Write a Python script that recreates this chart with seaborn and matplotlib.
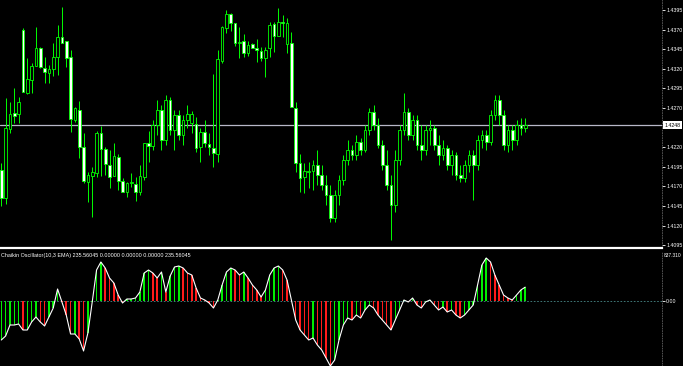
import matplotlib
matplotlib.use("Agg")
import matplotlib.pyplot as plt
import numpy as np
import pandas as pd
import seaborn as sns

# ---------------- data (EURUSD-like candles) ----------------
opens = [1.4191, 1.4155, 1.4243, 1.4264, 1.4262, 1.4370, 1.4289, 1.4306, 1.4324, 1.4347,
         1.4321, 1.4315, 1.4320, 1.4335, 1.4361, 1.4355, 1.4335, 1.4255, 1.4267, 1.4220,
         1.4176, 1.4183, 1.4187, 1.4238, 1.4218, 1.4197, 1.4183, 1.4207, 1.4177, 1.4163,
         1.4174, 1.4173, 1.4163, 1.4182, 1.4225, 1.4221, 1.4248, 1.4267, 1.4229, 1.4280,
         1.4242, 1.4261, 1.4236, 1.4255, 1.4251, 1.4250, 1.4220, 1.4239, 1.4224, 1.4219,
         1.4211, 1.4330, 1.4372, 1.4390, 1.4378, 1.4353, 1.4355, 1.4340, 1.4352, 1.4347,
         1.4343, 1.4334, 1.4347, 1.4377, 1.4362, 1.4380, 1.4352, 1.4353, 1.4270, 1.4200,
         1.4182, 1.4188, 1.4190, 1.4197, 1.4184, 1.4172, 1.4159, 1.4130, 1.4159, 1.4178,
         1.4204, 1.4216, 1.4210, 1.4227, 1.4216, 1.4242, 1.4265, 1.4248, 1.4223, 1.4197,
         1.4172, 1.4146, 1.4204, 1.4242, 1.4265, 1.4236, 1.4255, 1.4223, 1.4216, 1.4242,
         1.4244, 1.4223, 1.4210, 1.4219, 1.4197, 1.4210, 1.4184, 1.4181, 1.4197, 1.4210,
         1.4197, 1.4229, 1.4236, 1.4227, 1.4261, 1.4280, 1.4261, 1.4223, 1.4242, 1.4229,
         1.4248, 1.4244]
highs = [1.4200, 1.4283, 1.4278, 1.4296, 1.4284, 1.4372, 1.4334, 1.4327, 1.4373, 1.4348,
         1.4335, 1.4325, 1.4353, 1.4376, 1.4399, 1.4355, 1.4344, 1.4271, 1.4279, 1.4238,
         1.4188, 1.4195, 1.4241, 1.4247, 1.4220, 1.4216, 1.4225, 1.4211, 1.4181, 1.4176,
         1.4187, 1.4182, 1.4197, 1.4225, 1.4241, 1.4255, 1.4280, 1.4274, 1.4287, 1.4284,
         1.4267, 1.4267, 1.4261, 1.4274, 1.4266, 1.4258, 1.4244, 1.4255, 1.4238, 1.4313,
         1.4344, 1.4375, 1.4395, 1.4391, 1.4378, 1.4373, 1.4364, 1.4355, 1.4353, 1.4358,
         1.4348, 1.4348, 1.4380, 1.4380, 1.4398, 1.4389, 1.4385, 1.4367, 1.4278, 1.4211,
         1.4200, 1.4201, 1.4204, 1.4216, 1.4197, 1.4184, 1.4172, 1.4165, 1.4184, 1.4210,
         1.4229, 1.4223, 1.4236, 1.4232, 1.4248, 1.4270, 1.4274, 1.4257, 1.4229, 1.4216,
         1.4184, 1.4216, 1.4248, 1.4289, 1.4270, 1.4261, 1.4261, 1.4248, 1.4248, 1.4255,
         1.4248, 1.4236, 1.4229, 1.4223, 1.4216, 1.4214, 1.4197, 1.4204, 1.4216, 1.4216,
         1.4236, 1.4242, 1.4242, 1.4267, 1.4287, 1.4287, 1.4267, 1.4248, 1.4248, 1.4255,
         1.4257, 1.4257]
lows = [1.4145, 1.4147, 1.4238, 1.4251, 1.4251, 1.4290, 1.4288, 1.4289, 1.4324, 1.4321,
        1.4302, 1.4302, 1.4311, 1.4312, 1.4353, 1.4322, 1.4239, 1.4252, 1.4206, 1.4174,
        1.4150, 1.4131, 1.4182, 1.4183, 1.4184, 1.4168, 1.4183, 1.4165, 1.4163, 1.4156,
        1.4169, 1.4151, 1.4159, 1.4178, 1.4201, 1.4216, 1.4236, 1.4216, 1.4223, 1.4236,
        1.4216, 1.4229, 1.4223, 1.4244, 1.4238, 1.4214, 1.4201, 1.4220, 1.4210, 1.4195,
        1.4201, 1.4327, 1.4366, 1.4368, 1.4349, 1.4334, 1.4335, 1.4336, 1.4347, 1.4329,
        1.4330, 1.4310, 1.4335, 1.4341, 1.4362, 1.4361, 1.4340, 1.4271, 1.4188, 1.4163,
        1.4161, 1.4168, 1.4165, 1.4172, 1.4165, 1.4146, 1.4124, 1.4124, 1.4146, 1.4172,
        1.4197, 1.4204, 1.4204, 1.4210, 1.4214, 1.4236, 1.4242, 1.4219, 1.4191, 1.4165,
        1.4101, 1.4137, 1.4197, 1.4236, 1.4229, 1.4229, 1.4216, 1.4204, 1.4210, 1.4223,
        1.4216, 1.4197, 1.4204, 1.4191, 1.4184, 1.4178, 1.4176, 1.4176, 1.4188, 1.4153,
        1.4191, 1.4219, 1.4216, 1.4223, 1.4255, 1.4248, 1.4216, 1.4214, 1.4216, 1.4223,
        1.4236, 1.4239]
closes = [1.4155, 1.4244, 1.4262, 1.4260, 1.4278, 1.4290, 1.4307, 1.4324, 1.4347, 1.4322,
          1.4316, 1.4320, 1.4335, 1.4361, 1.4353, 1.4334, 1.4256, 1.4270, 1.4220, 1.4177,
          1.4184, 1.4188, 1.4238, 1.4218, 1.4198, 1.4182, 1.4209, 1.4177, 1.4163, 1.4174,
          1.4176, 1.4163, 1.4183, 1.4225, 1.4221, 1.4248, 1.4267, 1.4229, 1.4280, 1.4242,
          1.4261, 1.4236, 1.4255, 1.4262, 1.4262, 1.4219, 1.4239, 1.4225, 1.4220, 1.4213,
          1.4333, 1.4373, 1.4390, 1.4378, 1.4353, 1.4354, 1.4340, 1.4350, 1.4347, 1.4344,
          1.4334, 1.4344, 1.4376, 1.4362, 1.4380, 1.4378, 1.4378, 1.4271, 1.4200, 1.4181,
          1.4190, 1.4190, 1.4197, 1.4184, 1.4172, 1.4159, 1.4130, 1.4159, 1.4178, 1.4204,
          1.4216, 1.4210, 1.4227, 1.4216, 1.4242, 1.4265, 1.4248, 1.4223, 1.4197, 1.4172,
          1.4146, 1.4204, 1.4242, 1.4265, 1.4236, 1.4255, 1.4223, 1.4216, 1.4242, 1.4244,
          1.4223, 1.4210, 1.4219, 1.4197, 1.4210, 1.4184, 1.4181, 1.4197, 1.4210, 1.4197,
          1.4229, 1.4236, 1.4227, 1.4261, 1.4280, 1.4261, 1.4223, 1.4242, 1.4229, 1.4248,
          1.4244, 1.4248]

# Chaikin oscillator values per bar
chaikin = [-663, -595, -408, -408, -391, -493, -493, -357, -272, -357,
           -425, -272, -119, 204, -17, -238, -561, -561, -646, -850,
           -544, -17, 527, 663, 561, 391, 306, 102, -34, 34,
           34, 51, 153, 476, 527, 476, 391, 493, 153, 425,
           578, 595, 561, 476, 442, 221, 51, 17, -34, -119,
           17, 272, 493, 561, 527, 442, 493, 391, 272, 187,
           68, 187, 442, 561, 595, 527, 357, 17, -323, -493,
           -578, -663, -629, -748, -833, -969, -1105, -1003, -663, -408,
           -289, -323, -238, -289, -153, -68, -119, -238, -323, -408,
           -493, -323, -153, 17, -17, 51, -68, -119, -17, 17,
           -68, -153, -102, -187, -153, -238, -289, -238, -153, -68,
           272, 612, 731, 663, 442, 272, 102, 51, 17, 102,
           187, 235.56]

price_ticks = [1.4395, 1.4370, 1.4345, 1.4320, 1.4295, 1.4270,
               1.4220, 1.4195, 1.4170, 1.4145, 1.4120, 1.4095]
current_price = 1.4248
osc_max = 837.310
indicator_title = "Chaikin Oscillator(10,3 EMA) 235.56045 0.00000 0.00000 0.00000 235.56045"

# ---------------- figure ----------------
sns.set_theme(style="dark")
plt.rcParams['font.family'] = ['Liberation Sans', 'DejaVu Sans']

W, H = 683, 366
fig = plt.figure(figsize=(W / 100, H / 100), dpi=100, facecolor='black')
pr = 662 / W
ax = fig.add_axes([0, 1 - 248 / H, pr, 248 / H])
ax2 = fig.add_axes([0, 0, pr, 115 / H])

LIME = '#00ff00'
df = pd.DataFrame({'o': opens, 'h': highs, 'l': lows, 'c': closes})
df['i'] = np.arange(len(df))
bear = df['c'] < df['o']

for a in (ax, ax2):
    a.set_facecolor('black')
    a.grid(False)
    for s in ('top', 'left'):
        a.spines[s].set_visible(False)
    a.spines['right'].set_color('#606060')
    a.spines['right'].set_linestyle((0, (1, 2)))
    a.spines['right'].set_linewidth(0.6)
    a.set_xlim(-0.30, 152.6)
    a.set_xticks([])
    a.yaxis.tick_right()
    a.tick_params(axis='y', colors='white', labelcolor='white', labelsize=3.8,
                  length=1.8, width=0.6, pad=1.2, direction='out')

ax.spines['bottom'].set_color('white')
ax.spines['bottom'].set_linewidth(1.6)
ax2.spines['bottom'].set_visible(False)

# candles
ax.vlines(df['i'], df['l'], df['h'], color=LIME, lw=0.7, zorder=2)
body_lo = np.minimum(df['o'], df['c'])
body_h = np.abs(df['c'] - df['o'])
ax.bar(df['i'], body_h, bottom=body_lo, width=0.62,
       color=np.where(bear, 'white', 'black'), edgecolor=LIME, linewidth=0.6, zorder=3)

ax.set_ylim(1.40913, 1.44078)
ax.set_yticks(price_ticks)
ax.set_yticklabels([f"{t:.4f}" for t in price_ticks])

ax.axhline(current_price, color='#b8b8c8', lw=0.9, zorder=1)
ax.text(1.0035, current_price, f"{current_price:.4f}", transform=ax.get_yaxis_transform(),
        ha='left', va='center', fontsize=3.8, color='black', zorder=10, clip_on=False,
        bbox=dict(boxstyle='square,pad=0.3', fc='white', ec='white', lw=0))

# oscillator
osc = pd.DataFrame({'i': np.arange(len(chaikin)), 'v': chaikin})
prev = osc['v'].shift(1).fillna(osc['v'])
cols = np.where(osc['v'] >= prev, '#00ee00', '#ff1a1a')
ax2.bar(osc['i'], osc['v'], width=0.35, color=cols, linewidth=0, zorder=2)
sns.lineplot(data=osc, x='i', y='v', color='white', lw=0.8, ax=ax2, zorder=3)
ax2.axhline(0, color='#4a8a8a', lw=0.6, ls=(0, (2, 2)), zorder=1)
ax2.set_ylim(-1105, 850)
ax2.set_yticks([0])
ax2.set_yticklabels(["0.00"])
ax2.set_xlabel('')
ax2.set_ylabel('')
ax.set_ylabel('')
ax2.text(1.003, 0.985, f"{osc_max:.3f}", transform=ax2.transAxes, ha='left', va='top',
         fontsize=3.5, color='white', clip_on=False, zorder=10)
ax2.text(0.002, 0.985, indicator_title, transform=ax2.transAxes, ha='left', va='top',
         fontsize=3.9, color='white', zorder=10)

fig.savefig('out.png', dpi=100, facecolor='black')
